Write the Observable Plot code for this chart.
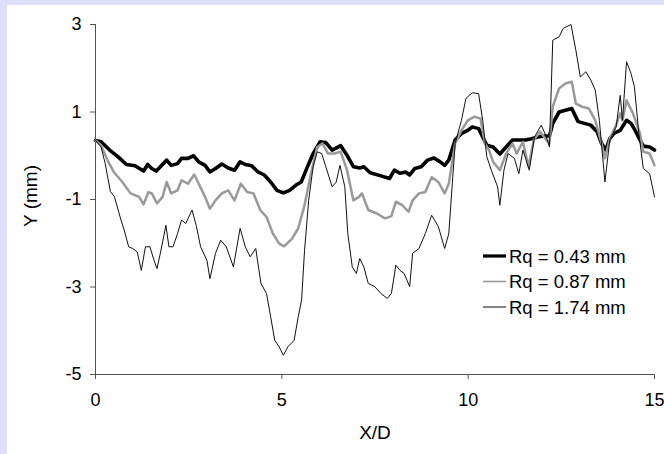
<!DOCTYPE html>
<html>
<head>
<meta charset="utf-8">
<script src="https://cdn.jsdelivr.net/npm/d3@7"></script>
<script src="https://cdn.jsdelivr.net/npm/@observablehq/plot@0.6"></script>
<style>
  html, body { margin: 0; padding: 0; }
  body { width: 664px; height: 454px; background: #dedefa; position: relative; overflow: hidden;
         font-family: "Liberation Sans", Arial, sans-serif; }
  #frame { position: absolute; left: 7px; top: 5px; width: 657px; height: 449px; background: #fff; }
  .title { position: absolute; font-size: 19px; color: #000; white-space: nowrap; }
  #xt { left: 0; width: 750px; top: 422px; text-align: center; }
  #yt { left: 31px; top: 196px; transform: translate(-50%, -50%) rotate(-90deg); }
  #legend { position: absolute; left: 475px; top: 243px; }
</style>
</head>
<body>
<div id="frame"></div>
<div class="title" id="xt">X/D</div>
<div class="title" id="yt">Y (mm)</div>
<script>
// ---- data (X/D, Y in mm) ----
const seriesNames = ["Rq = 0.43 mm", "Rq = 0.87 mm", "Rq = 1.74 mm"];

const x043 = [0,0.15,0.38,0.60,0.83,1.06,1.29,1.40,1.51,1.63,1.74,1.91,2.03,2.20,2.31,2.48,2.63,2.77,2.94,3.07,3.22,3.39,3.56,3.73,3.88,4.02,4.19,4.36,4.53,4.70,4.87,5.04,5.21,5.38,5.52,5.67,5.84,6.03,6.18,6.35,6.58,6.75,6.92,7.09,7.20,7.37,7.66,7.89,8.02,8.17,8.32,8.43,8.57,8.74,8.91,9.08,9.25,9.37,9.48,9.65,9.82,9.99,10.11,10.28,10.39,10.50,10.67,10.85,11.02,11.19,11.36,11.53,11.70,11.87,12.04,12.18,12.27,12.44,12.61,12.78,12.95,13.12,13.29,13.46,13.58,13.69,13.80,13.91,14.08,14.25,14.37,14.48,14.61,14.70,14.87,15.0];
const y043 = [0.35,0.32,0.13,-0.02,-0.2,-0.23,-0.35,-0.2,-0.29,-0.35,-0.25,-0.1,-0.22,-0.18,-0.06,-0.06,0.0,-0.14,-0.22,-0.37,-0.29,-0.19,-0.28,-0.33,-0.14,-0.2,-0.23,-0.37,-0.44,-0.6,-0.79,-0.85,-0.79,-0.67,-0.6,-0.29,0.05,0.32,0.3,0.13,0.23,0.01,-0.25,-0.28,-0.25,-0.39,-0.46,-0.52,-0.33,-0.4,-0.37,-0.44,-0.29,-0.25,-0.1,-0.05,-0.14,-0.22,-0.1,0.36,0.51,0.58,0.66,0.62,0.43,0.24,0.2,0.04,0.2,0.36,0.36,0.36,0.39,0.43,0.45,0.45,0.74,1.0,1.04,1.08,0.78,0.74,0.7,0.55,0.28,0.13,0.39,0.51,0.58,0.81,0.74,0.58,0.36,0.22,0.2,0.13];

const x087 = [0,0.15,0.32,0.49,0.72,0.94,1.17,1.29,1.42,1.51,1.65,1.80,1.91,2.03,2.20,2.31,2.48,2.65,2.77,2.94,3.07,3.22,3.39,3.56,3.73,3.90,4.07,4.24,4.42,4.59,4.76,4.93,5.06,5.27,5.44,5.61,5.78,5.95,6.09,6.24,6.41,6.58,6.75,6.92,7.07,7.15,7.32,7.55,7.77,7.94,8.06,8.23,8.40,8.51,8.68,8.85,9.02,9.20,9.37,9.48,9.65,9.82,9.99,10.16,10.33,10.45,10.56,10.67,10.85,11.02,11.19,11.30,11.47,11.62,11.76,11.93,12.10,12.18,12.27,12.44,12.61,12.78,12.89,13.06,13.24,13.41,13.58,13.67,13.80,13.97,14.08,14.14,14.25,14.42,14.61,14.70,14.87,15.0];
const y087 = [0.35,0.24,-0.1,-0.37,-0.6,-0.86,-0.94,-1.11,-0.83,-0.86,-1.09,-0.94,-0.6,-0.86,-0.79,-0.56,-0.64,-0.43,-0.64,-0.94,-1.21,-1.02,-0.86,-0.79,-1.02,-0.64,-0.83,-0.86,-1.24,-1.4,-1.78,-2.01,-2.07,-1.9,-1.66,-1.13,-0.41,0.2,0.28,0.05,0.05,0.09,-0.33,-1.02,-0.94,-0.86,-1.24,-1.32,-1.43,-1.38,-1.05,-1.13,-1.28,-1.02,-0.86,-0.83,-0.49,-0.6,-0.86,-0.64,0.28,0.58,0.81,0.89,0.85,0.28,0.13,-0.14,-0.33,0.05,0.28,0.05,0.32,-0.25,0.36,0.55,0.36,0.28,1.12,1.54,1.65,1.69,1.19,1.12,1.08,0.81,0.28,-0.06,0.39,0.7,0.97,0.81,1.27,0.97,0.51,0.09,0.05,-0.22];

const x174 = [0,0.15,0.26,0.40,0.51,0.66,0.77,0.89,1.00,1.12,1.23,1.34,1.46,1.57,1.65,1.74,1.89,1.97,2.08,2.20,2.31,2.42,2.59,2.71,2.82,2.99,3.07,3.22,3.36,3.51,3.70,3.88,4.02,4.15,4.30,4.44,4.59,4.70,4.81,4.93,5.04,5.16,5.33,5.44,5.53,5.61,5.72,5.84,5.95,6.07,6.18,6.35,6.46,6.56,6.69,6.77,6.89,7.00,7.09,7.20,7.32,7.49,7.66,7.83,7.94,8.06,8.17,8.28,8.43,8.51,8.68,8.85,9.02,9.20,9.37,9.48,9.65,9.82,9.94,10.11,10.28,10.39,10.50,10.62,10.79,10.85,10.96,11.07,11.24,11.36,11.47,11.64,11.78,11.96,12.10,12.18,12.27,12.44,12.55,12.76,12.89,13.01,13.16,13.29,13.41,13.52,13.67,13.80,13.97,14.08,14.14,14.25,14.37,14.46,14.58,14.70,14.87,15.0];
const y174 = [0.35,0.2,-0.18,-0.82,-0.94,-1.4,-1.7,-2.08,-2.12,-2.2,-2.62,-2.08,-2.08,-2.39,-2.58,-2.23,-1.59,-2.08,-2.08,-1.78,-1.47,-1.55,-1.24,-1.62,-2.08,-2.39,-2.81,-2.23,-1.93,-2.08,-2.54,-1.66,-2.08,-2.31,-2.12,-2.92,-3.15,-3.68,-4.22,-4.37,-4.56,-4.37,-4.22,-3.68,-3.3,-2.16,-1.02,-0.25,0.09,0.05,-0.25,-0.71,-0.6,-0.22,-0.71,-1.78,-2.54,-2.69,-2.35,-2.54,-2.92,-2.99,-3.15,-3.26,-3.15,-2.5,-2.62,-2.69,-2.99,-2.23,-2.12,-1.78,-1.36,-1.62,-2.12,-1.78,0.28,0.81,1.31,1.44,1.42,0.81,-0.02,-0.33,-0.71,-1.13,-0.33,0.05,-0.06,-0.41,0.13,-0.33,0.43,0.7,0.43,0.2,2.64,2.72,2.91,3.0,2.41,1.8,1.92,1.73,1.5,0.81,-0.6,0.36,0.66,1.38,0.81,2.15,1.88,1.58,0.51,-0.29,-0.41,-0.94];

const xTicks = [0, 5, 10, 15];
const yTicks = [3, 1, -1, -3, -5];

const toRows = (xs, ys) => xs.map((x, i) => ({x, y: ys[i]}));
const d043 = toRows(x043, y043);
const d087 = toRows(x087, y087);
const d174 = toRows(x174, y174);

const styles = [
  {stroke: "#000", strokeWidth: 3.6},
  {stroke: "#999", strokeWidth: 2.5},
  {stroke: "#111", strokeWidth: 1}
];

const fmt = d => String(d);   // plain hyphen minus, as in the reference

const chart = Plot.plot({
  width: 657,
  height: 449,
  marginLeft: 88,
  marginRight: 10,
  marginTop: 19,
  marginBottom: 80,
  style: {background: "transparent", fontFamily: "'Liberation Sans', Arial, sans-serif", fontSize: "18px", color: "#000"},
  x: {domain: [0, 15]},
  y: {domain: [-5, 3]},
  marks: [
    Plot.axisX({ticks: xTicks, tickFormat: fmt, tickSize: 5, tickPadding: 14, label: null, stroke: "#555", fill: "#000", fontSize: 18}),
    Plot.axisY({ticks: yTicks, tickFormat: fmt, tickSize: 5, tickPadding: 9, label: null, stroke: "#555", fill: "#000", fontSize: 18}),
    Plot.ruleX([0], {stroke: "#555"}),
    Plot.ruleY([-5], {stroke: "#555"}),
    Plot.line(d043, {x: "x", y: "y", ...styles[0], strokeLinejoin: "round"}),
    Plot.line(d087, {x: "x", y: "y", ...styles[1], strokeLinejoin: "round"}),
    Plot.line(d174, {x: "x", y: "y", ...styles[2], strokeLinejoin: "round"})
  ]
});
document.getElementById("frame").appendChild(chart);

// legend
const ns = "http://www.w3.org/2000/svg";
const leg = document.createElementNS(ns, "svg");
leg.setAttribute("id", "legend");
leg.setAttribute("width", 185);
leg.setAttribute("height", 80);
seriesNames.forEach((name, i) => {
  const cy = 13 + i * 25.5;
  const ln = document.createElementNS(ns, "line");
  ln.setAttribute("x1", 8); ln.setAttribute("x2", 31);
  ln.setAttribute("y1", cy); ln.setAttribute("y2", cy);
  ln.setAttribute("stroke", i === 2 ? "#666" : styles[i].stroke);
  ln.setAttribute("stroke-width", i === 0 ? 3.2 : 1.6);
  leg.appendChild(ln);
  const t = document.createElementNS(ns, "text");
  t.setAttribute("x", 34); t.setAttribute("y", cy);
  t.setAttribute("dy", "0.36em");
  t.setAttribute("font-size", 18.5);
  t.setAttribute("font-family", "'Liberation Sans', Arial, sans-serif");
  t.textContent = name;
  leg.appendChild(t);
});
document.body.appendChild(leg);
</script>
</body>
</html>
